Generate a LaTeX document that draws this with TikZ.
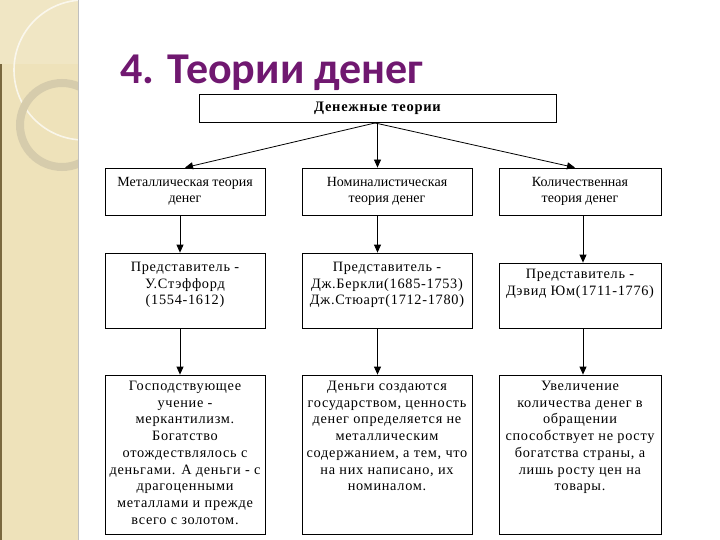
\documentclass[tikz,border=0pt]{standalone}
\usepackage{fontspec}
\usepackage{tikz}
\usetikzlibrary{arrows.meta, positioning, calc}
\setmainfont{Liberation Serif}
\newfontfamily\titlefont{Carlito}
\newfontfamily\widefont[LetterSpace=5]{Liberation Serif}
\definecolor{titlec}{RGB}{112,24,112}
\definecolor{panelc}{RGB}{238,226,186}
\definecolor{ringc}{RGB}{214,204,172}
\definecolor{edgec}{RGB}{122,104,62}
\newcommand{\celltext}[4]{\parbox[c][#2][t]{#1}{\centering\vspace*{#3}#4\par}}

\begin{document}
\begin{tikzpicture}[x=1pt, y=-1pt,
  box/.style={draw, line width=0.8pt, inner sep=0pt, font=\fontsize{14}{16.75}\selectfont},
  widebox/.style={box, font=\widefont\fontsize{14.3}{16.75}\selectfont},
  arr/.style={-{Triangle[length=8pt, width=7pt]}, line width=0.8pt}]
  \useasboundingbox (0,0) rectangle (720,540);
  \fill[panelc] (0,0) rectangle (78,540);
  \begin{scope}
    \clip (0,0) rectangle (78,540);
    \fill[white, opacity=0.15] (0,0) rectangle (78,64);
    \draw[white, opacity=0.7, line width=1.6pt] (84,70) circle (70);
    \draw[ringc, line width=8pt] (62,125) circle (42);
  \end{scope}
  \fill[edgec] (0,64) rectangle (2,540);
  \draw[black!25, line width=1pt] (78.5,0) -- (78.5,540);
  \node[anchor=base west, text=titlec, font=\titlefont\bfseries\fontsize{44}{44}\selectfont] (title) at (117,84) {4. Теории денег};
  \node[box, minimum width=357pt, minimum height=28pt, font=\widefont\bfseries\fontsize{14.5}{16}\selectfont] (top) at (377.5,108) {Денежные теории};
  \node[box] (m1) at (185,191.5) {\celltext{160pt}{47pt}{9pt}{Металлическая теория\\ денег}};
  \node[box] (m2) at (387,191.5) {\celltext{170pt}{47pt}{9pt}{Номиналистическая\\ теория денег}};
  \node[box] (m3) at (580,191.5) {\celltext{162pt}{47pt}{9pt}{Количественная\\ теория денег}};
  \node[widebox] (r1) at (185,290.5) {\celltext{160pt}{75pt}{9pt}{Представитель -\\ У.Стэффорд\\ (1554-1612)}};
  \node[widebox] (r2) at (387,290.5) {\celltext{170pt}{75pt}{9pt}{Представитель -\\ Дж.Беркли(1685-1753)\\ Дж.Стюарт(1712-1780)}};
  \node[widebox] (r3) at (580,295.5) {\celltext{162pt}{65pt}{6pt}{Представитель -\\ Дэвид Юм(1711-1776)}};
  \node[widebox] (d1) at (185,454.5) {\celltext{160pt}{159pt}{6pt}{Господствующее\\ учение -\\ меркантилизм.\\ Богатство\\ отождествлялось с\\ деньгами. А деньги - с\\ драгоценными\\ металлами и прежде\\ всего с золотом.}};
  \node[widebox] (d2) at (387,454.5) {\celltext{170pt}{159pt}{6pt}{Деньги создаются\\ государством, ценность\\ денег определяется не\\ металлическим\\ содержанием, а тем, что\\ на них написано, их\\ номиналом.}};
  \node[widebox] (d3) at (580,454.5) {\celltext{162pt}{159pt}{6pt}{Увеличение\\ количества денег в\\ обращении\\ способствует не росту\\ богатства страны, а\\ лишь росту цен на\\ товары.}};
  \draw[arr] (top.south) -- (m1.north);
  \draw[arr] (top.south) -- (m2.north -| top.south);
  \draw[arr] ([xshift=-5pt]top.south) -- ([xshift=-5pt]m3.north);
  \draw[arr] ([xshift=-5pt]m1.south) -- ([xshift=-5pt]r1.north);
  \draw[arr] (m2.south -| top.south) -- (r2.north -| top.south);
  \draw[arr] ([xshift=3pt]m3.south) -- ([xshift=3pt]r3.north);
  \draw[arr] ([xshift=-5pt]r1.south) -- ([xshift=-5pt]d1.north);
  \draw[arr] (r2.south -| top.south) -- (d2.north -| top.south);
  \draw[arr] ([xshift=3pt]r3.south) -- ([xshift=3pt]d3.north);
\end{tikzpicture}
\end{document}
